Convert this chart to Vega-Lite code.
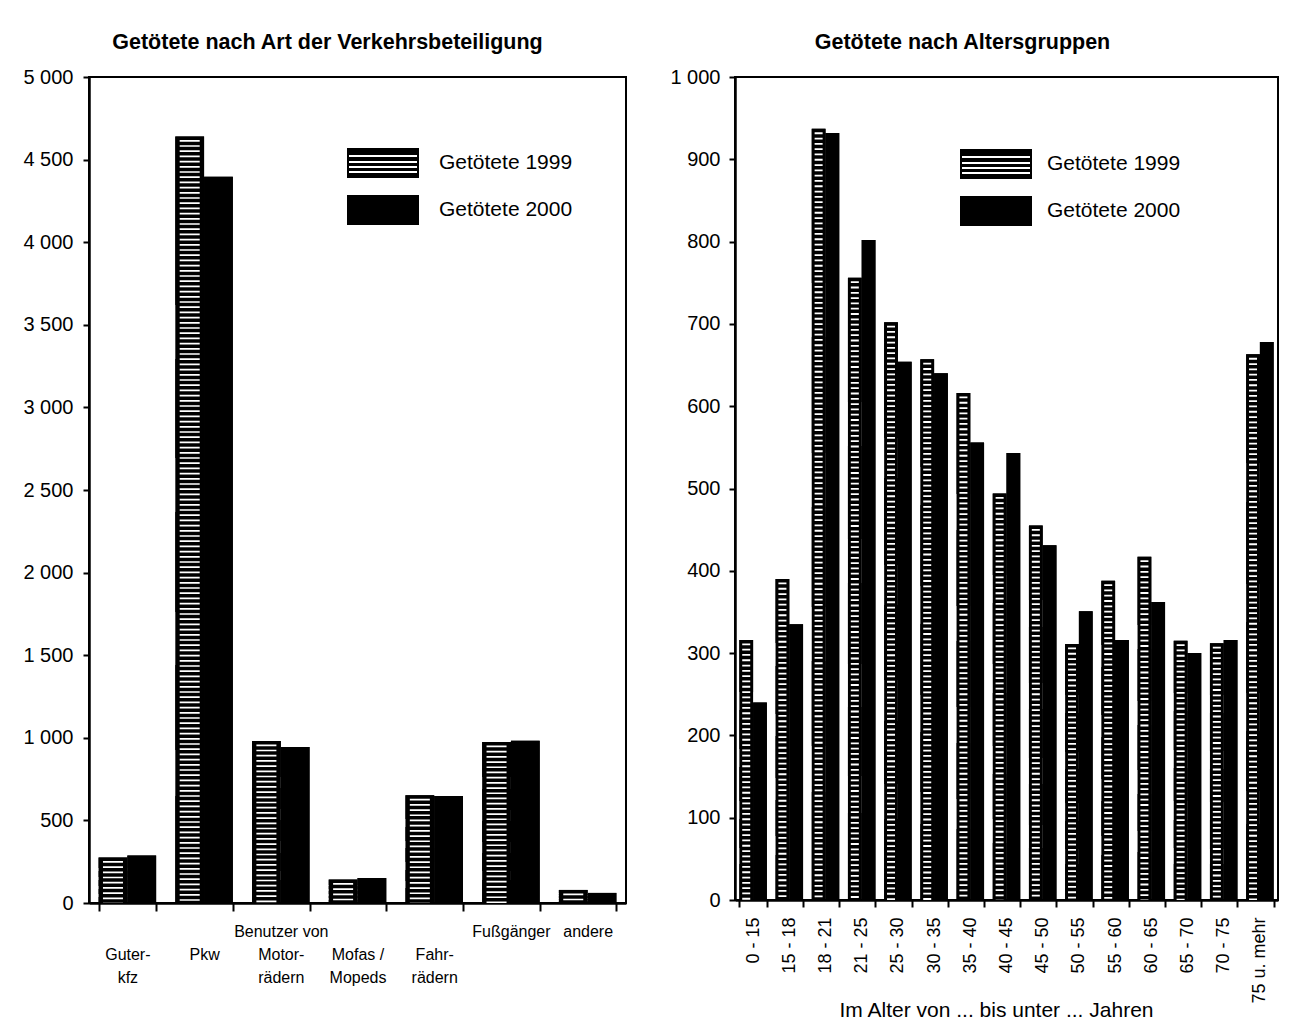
{
  "$schema": "https://vega.github.io/schema/vega-lite/v6.json",
  "padding": {"left": 18, "top": 30, "right": 0, "bottom": 0},
  "spacing": 41,
  "resolve": {"scale": {"color": "independent", "xOffset": "independent"}, "legend": {"color": "independent"}},
  "datasets": {
    "art": [
      {"art": "Guter-kfz", "jahr": "1999", "anzahl": 275},
      {"art": "Guter-kfz", "jahr": "2000", "anzahl": 287},
      {"art": "Pkw", "jahr": "1999", "anzahl": 4640},
      {"art": "Pkw", "jahr": "2000", "anzahl": 4396},
      {"art": "Benutzer von Motorrädern", "jahr": "1999", "anzahl": 981},
      {"art": "Benutzer von Motorrädern", "jahr": "2000", "anzahl": 945},
      {"art": "Mofas / Mopeds", "jahr": "1999", "anzahl": 142},
      {"art": "Mofas / Mopeds", "jahr": "2000", "anzahl": 151},
      {"art": "Fahrrädern", "jahr": "1999", "anzahl": 652},
      {"art": "Fahrrädern", "jahr": "2000", "anzahl": 647},
      {"art": "Fußgänger", "jahr": "1999", "anzahl": 974},
      {"art": "Fußgänger", "jahr": "2000", "anzahl": 982},
      {"art": "andere", "jahr": "1999", "anzahl": 79},
      {"art": "andere", "jahr": "2000", "anzahl": 61}
    ],
    "alter": [
      {"alter": "0 - 15", "jahrgang": "1999", "anzahl": 316},
      {"alter": "0 - 15", "jahrgang": "2000", "anzahl": 240},
      {"alter": "15 - 18", "jahrgang": "1999", "anzahl": 390},
      {"alter": "15 - 18", "jahrgang": "2000", "anzahl": 335},
      {"alter": "18 - 21", "jahrgang": "1999", "anzahl": 937},
      {"alter": "18 - 21", "jahrgang": "2000", "anzahl": 932},
      {"alter": "21 - 25", "jahrgang": "1999", "anzahl": 756},
      {"alter": "21 - 25", "jahrgang": "2000", "anzahl": 802},
      {"alter": "25 - 30", "jahrgang": "1999", "anzahl": 702},
      {"alter": "25 - 30", "jahrgang": "2000", "anzahl": 654},
      {"alter": "30 - 35", "jahrgang": "1999", "anzahl": 657},
      {"alter": "30 - 35", "jahrgang": "2000", "anzahl": 640},
      {"alter": "35 - 40", "jahrgang": "1999", "anzahl": 616},
      {"alter": "35 - 40", "jahrgang": "2000", "anzahl": 556},
      {"alter": "40 - 45", "jahrgang": "1999", "anzahl": 494},
      {"alter": "40 - 45", "jahrgang": "2000", "anzahl": 543},
      {"alter": "45 - 50", "jahrgang": "1999", "anzahl": 455},
      {"alter": "45 - 50", "jahrgang": "2000", "anzahl": 431},
      {"alter": "50 - 55", "jahrgang": "1999", "anzahl": 311},
      {"alter": "50 - 55", "jahrgang": "2000", "anzahl": 351},
      {"alter": "55 - 60", "jahrgang": "1999", "anzahl": 388},
      {"alter": "55 - 60", "jahrgang": "2000", "anzahl": 316},
      {"alter": "60 - 65", "jahrgang": "1999", "anzahl": 417},
      {"alter": "60 - 65", "jahrgang": "2000", "anzahl": 362},
      {"alter": "65 - 70", "jahrgang": "1999", "anzahl": 315},
      {"alter": "65 - 70", "jahrgang": "2000", "anzahl": 300},
      {"alter": "70 - 75", "jahrgang": "1999", "anzahl": 312},
      {"alter": "70 - 75", "jahrgang": "2000", "anzahl": 316},
      {"alter": "75 u. mehr", "jahrgang": "1999", "anzahl": 663},
      {"alter": "75 u. mehr", "jahrgang": "2000", "anzahl": 678}
    ]
  },
  "hconcat": [
    {
      "width": 537,
      "height": 826,
      "title": {"text": "Getötete nach Art der Verkehrsbeteiligung", "dx": -30},
      "data": {"name": "art"},
      "encoding": {
        "x": {
          "field": "art", "type": "nominal",
          "sort": ["Guter-kfz", "Pkw", "Benutzer von Motorrädern", "Mofas / Mopeds", "Fahrrädern", "Fußgänger", "andere"],
          "scale": {"paddingInner": 0.25, "paddingOuter": 0.125},
          "axis": {
            "title": null, "labelAngle": 0, "tickBand": "extent", "tickSize": 8,
            "labelPadding": 12, "labelFontSize": 16, "labelLineHeight": 23,
            "labelOverlap": false, "labelBound": false,
            "labelExpr": "datum.value == 'Guter-kfz' ? ['\u00a0','Guter-','kfz'] : datum.value == 'Pkw' ? ['\u00a0','Pkw'] : datum.value == 'Benutzer von Motorrädern' ? ['Benutzer von','Motor-','rädern'] : datum.value == 'Mofas / Mopeds' ? ['\u00a0','Mofas /','Mopeds'] : datum.value == 'Fahrrädern' ? ['\u00a0','Fahr-','rädern'] : datum.value"
          }
        },
        "xOffset": {"field": "jahr", "type": "nominal", "sort": ["1999", "2000"]},
        "y": {
          "field": "anzahl", "type": "quantitative",
          "scale": {"domain": [0, 5000], "nice": false},
          "axis": {
            "title": null, "values": [0, 500, 1000, 1500, 2000, 2500, 3000, 3500, 4000, 4500, 5000],
            "labelExpr": "replace(format(datum.value, ','), ',', ' ')",
            "labelFontSize": 20, "tickSize": 6, "labelPadding": 10,
            "minExtent": 70, "maxExtent": 70
          }
        }
      },
      "layer": [
        {
          "mark": {"type": "bar"},
          "encoding": {
            "color": {
              "field": "jahr", "type": "nominal",
              "scale": {
                "domain": ["1999", "2000"],
                "range": [
                  {"expr": "{gradient: 'linear', x1: 0, y1: 0, x2: 0, y2: 1, stops: [{offset: 0, color: 'black'}, {offset: 0.22, color: 'black'}, {offset: 0.22, color: 'white'}, {offset: 0.29, color: 'white'}, {offset: 0.29, color: 'black'}, {offset: 0.42, color: 'black'}, {offset: 0.42, color: 'white'}, {offset: 0.49, color: 'white'}, {offset: 0.49, color: 'black'}, {offset: 0.62, color: 'black'}, {offset: 0.62, color: 'white'}, {offset: 0.69, color: 'white'}, {offset: 0.69, color: 'black'}, {offset: 0.8, color: 'black'}, {offset: 0.8, color: 'white'}, {offset: 0.86, color: 'white'}, {offset: 0.86, color: 'black'}, {offset: 1, color: 'black'}]}"},
                  "black"
                ]
              },
              "legend": {
                "orient": "none", "legendX": 265, "legendY": 57, "title": null,
                "symbolType": "M-1.25,-0.5H1.25V0.5H-1.25Z", "symbolSize": 3136,
                "symbolStrokeColor": "black", "symbolStrokeWidth": 2, "symbolOpacity": 1,
                "labelFontSize": 21, "labelOffset": 27, "rowPadding": -11,
                "labelColor": "black",
                "labelExpr": "'Getötete ' + datum.label"
              }
            }
          }
        },
        {
          "mark": {"type": "bar", "fill": "black"}
        },
        {
          "transform": [{"filter": "datum.jahr == '1999'"}],
          "mark": {"type": "rule", "color": "white", "strokeWidth": 20, "strokeDash": [1.7, 3.5], "strokeDashOffset": 1.7},
          "encoding": {"y2": {"datum": 0}}
        }
      ]
    },
    {
      "width": 543,
      "height": 823,
      "title": {"text": "Getötete nach Altersgruppen", "dx": -44},
      "data": {"name": "alter"},
      "encoding": {
        "x": {
          "field": "alter", "type": "nominal",
          "sort": ["0 - 15", "15 - 18", "18 - 21", "21 - 25", "25 - 30", "30 - 35", "35 - 40", "40 - 45", "45 - 50", "50 - 55", "55 - 60", "60 - 65", "65 - 70", "70 - 75", "75 u. mehr"],
          "scale": {"paddingInner": 0.24, "paddingOuter": 0.12},
          "axis": {
            "title": "Im Alter von ... bis unter ... Jahren", "titleFontSize": 21, "titleFontWeight": "normal",
            "titlePadding": -4, "titleColor": "black", "titleX": 261,
            "labelAngle": -90, "tickBand": "extent", "tickSize": 7,
            "labelPadding": 10, "labelFontSize": 18, "labelOverlap": false, "labelBound": false
          }
        },
        "xOffset": {"field": "jahrgang", "type": "nominal", "sort": ["1999", "2000"]},
        "y": {
          "field": "anzahl", "type": "quantitative",
          "scale": {"domain": [0, 1000], "nice": false},
          "axis": {
            "title": null, "values": [0, 100, 200, 300, 400, 500, 600, 700, 800, 900, 1000],
            "labelExpr": "replace(format(datum.value, ','), ',', ' ')",
            "labelFontSize": 20, "tickSize": 6, "labelPadding": 9,
            "minExtent": 60, "maxExtent": 60
          }
        }
      },
      "layer": [
        {
          "mark": {"type": "bar"},
          "encoding": {
            "color": {
              "field": "jahrgang", "type": "nominal",
              "scale": {
                "domain": ["1999", "2000"],
                "range": [
                  {"expr": "{gradient: 'linear', x1: 0, y1: 0, x2: 0, y2: 1, stops: [{offset: 0, color: 'black'}, {offset: 0.2, color: 'black'}, {offset: 0.2, color: 'white'}, {offset: 0.27, color: 'white'}, {offset: 0.27, color: 'black'}, {offset: 0.42, color: 'black'}, {offset: 0.42, color: 'white'}, {offset: 0.49, color: 'white'}, {offset: 0.49, color: 'black'}, {offset: 0.62, color: 'black'}, {offset: 0.62, color: 'white'}, {offset: 0.69, color: 'white'}, {offset: 0.69, color: 'black'}, {offset: 0.8, color: 'black'}, {offset: 0.8, color: 'white'}, {offset: 0.86, color: 'white'}, {offset: 0.86, color: 'black'}, {offset: 1, color: 'black'}]}"},
                  "black"
                ]
              },
              "legend": {
                "orient": "none", "legendX": 232, "legendY": 58, "title": null,
                "symbolType": "M-1.25,-0.5H1.25V0.5H-1.25Z", "symbolSize": 3136,
                "symbolStrokeColor": "black", "symbolStrokeWidth": 2, "symbolOpacity": 1,
                "labelFontSize": 21, "labelOffset": 22, "rowPadding": -9,
                "labelColor": "black",
                "labelExpr": "'Getötete ' + datum.label"
              }
            }
          }
        },
        {
          "mark": {"type": "bar", "fill": "black"}
        },
        {
          "transform": [{"filter": "datum.jahrgang == '1999'"}],
          "mark": {"type": "rule", "color": "white", "strokeWidth": 8, "strokeDash": [1.8, 3.5], "strokeDashOffset": 1.8},
          "encoding": {"y2": {"datum": 0}}
        }
      ]
    }
  ],
  "config": {
    "font": "Liberation Sans",
    "view": {"stroke": "black", "strokeWidth": 2},
    "axis": {
      "domainColor": "black", "domainWidth": 2.5, "tickColor": "black", "tickWidth": 2,
      "labelColor": "black", "labelFont": "Liberation Sans", "titleFont": "Liberation Sans", "grid": false
    },
    "legend": {"labelFont": "Liberation Sans"},
    "title": {"fontSize": 21.5, "fontWeight": "bold", "color": "black", "font": "Liberation Sans", "offset": 14}
  }
}
